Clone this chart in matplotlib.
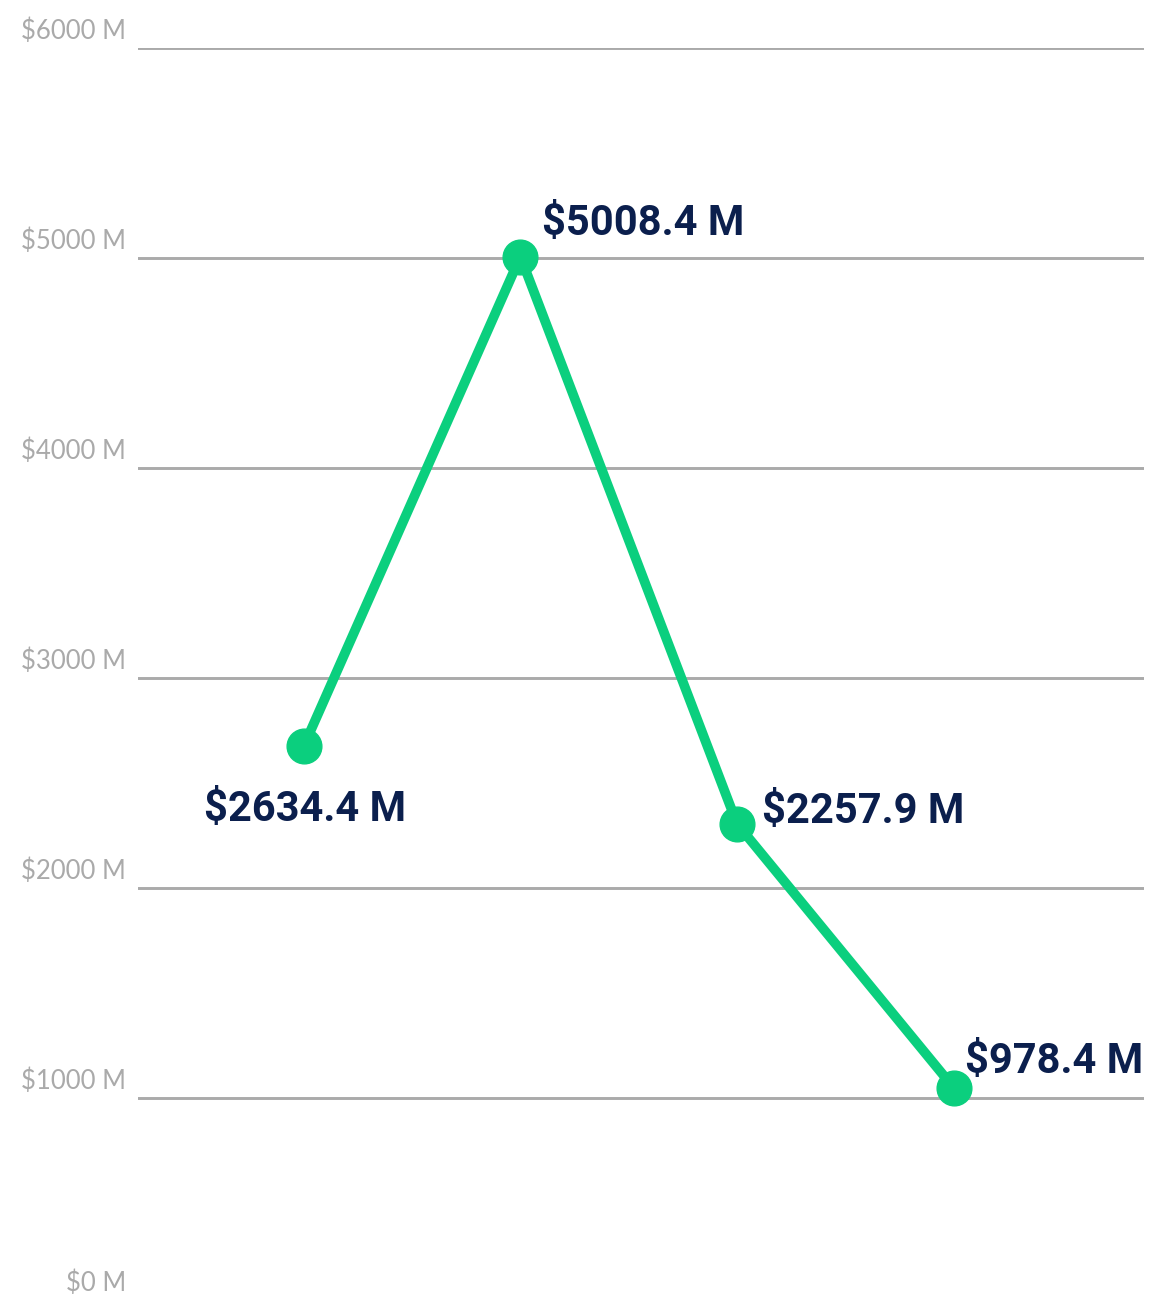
import matplotlib
matplotlib.use("Agg")
import matplotlib.pyplot as plt
import matplotlib.transforms as mtransforms

# datos del grafico
valores = [2634.4, 5008.4, 2257.9, 978.4]
etiquetas = ["$2634.4 M", "$5008.4 M", "$2257.9 M", "$978.4 M"]
ticks_y = [0, 1000, 2000, 3000, 4000, 5000, 6000]
ticks_txt = ["$0 M", "$1000 M", "$2000 M", "$3000 M", "$4000 M", "$5000 M", "$6000 M"]

VERDE = "#0bcf7e"
AZUL = "#0b1f4d"
GRIS = "#aaaaaa"

fig = plt.figure(figsize=(11.51, 12.95), dpi=100)
ax = fig.add_axes([138 / 1151, -13.3 / 1295, 1006 / 1151, 1260 / 1295])

# eje de la cuadricula
ax.set_ylim(0, 6000)
ax.set_xlim(0, 1)
for v in ticks_y[1:]:
    ax.axhline(v, color=GRIS, lw=2.1, zorder=1)
for s in ax.spines.values():
    s.set_visible(False)
ax.set_xticks([])
ax.set_yticks([])

trans = mtransforms.blended_transform_factory(ax.transAxes, ax.transData)
for v, t in zip(ticks_y, ticks_txt):
    dy = 17 if v == 0 else 9
    ax.annotate(t, xy=(0, v), xycoords=trans, xytext=(-12, dy),
                textcoords="offset pixels", ha="right", va="baseline",
                fontsize=18.5, family="Lato", color=GRIS, annotation_clip=False)

# eje de los datos
ax2 = ax.twinx()
ax2.set_ylim(-90.7, 6018)
ax2.set_xlim(-0.765, 3.878)
ax2.axis("off")
x = list(range(len(valores)))
ax2.plot(x, valores, color=VERDE, lw=7, marker="o", markersize=25,
         solid_capstyle="round", zorder=3)

offsets = [(1, -75, "center"), (22, 22, "left"), (25, 1, "left"), (11, 15, "left")]
for xi, v, t, (ox, oy, ha) in zip(x, valores, etiquetas, offsets):
    ax2.annotate(t, xy=(xi, v), xytext=(ox, oy), textcoords="offset pixels",
                 ha=ha, va="baseline", fontsize=30, fontweight="bold",
                 family="Roboto", color=AZUL, annotation_clip=False)

fig.savefig("out.png", dpi=100)
